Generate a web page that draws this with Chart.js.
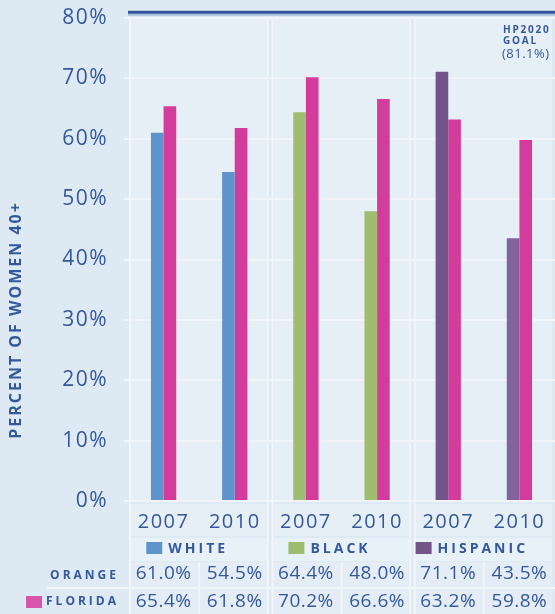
<!DOCTYPE html>
<html><head><meta charset="utf-8">
<script src="https://cdn.jsdelivr.net/npm/chart.js@4.4.1/dist/chart.umd.min.js"></script>
<style>html,body{margin:0;padding:0;background:#deeaf3;}canvas{display:block;}</style>
</head><body>
<canvas id="c" width="555" height="614"></canvas>
<script>
// ---- data ----
const years = ['2007', '2010', '2007', '2010', '2007', '2010'];
const groups = ['WHITE', 'BLACK', 'HISPANIC'];
const orange = [61.0, 54.5, 64.4, 48.0, 71.1, 43.5];
const florida = [65.4, 61.8, 70.2, 66.6, 63.2, 59.8];
const yTicks = [0, 10, 20, 30, 40, 50, 60, 70, 80];
const goal = 81.1;
const goalLabel = ['HP2020', 'GOAL', '(81.1%)'];
const rowLabels = ['ORANGE', 'FLORIDA'];
const yTitle = 'PERCENT OF WOMEN 40+';

// ---- styles ----
const TXT = '#34589b';
const groupColors = ['#5f94cb', '#9fbd6f', '#735489'];
const orangeColors = ['#5f94cb', '#5f94cb', '#9fbd6f', '#9fbd6f', '#735489', '#82639c'];
const floridaColor = '#d43c9c';
const FONT = '"Open Sans", "DejaVu Sans", sans-serif';

const fmt = v => v.toFixed(1) + '%';

const decor = {
  id: 'decor',
  beforeDraw(chart) {
    const {ctx, chartArea: ca} = chart;
    const H = chart.height;
    const w = (ca.right - ca.left) / years.length;
    ctx.save();
    for (let g = 0; g < groups.length; g++) {
      const gl = ca.left + 2 * g * w, gr = gl + 2 * w;
      ctx.fillStyle = '#e6eef6';
      ctx.fillRect(gl + 3, ca.top, gr - gl - 6, ca.bottom - ca.top);
      ctx.fillRect(gl + 3, ca.bottom + 3, gr - gl - 6, 32);
      ctx.fillStyle = '#e9f1f8';
      ctx.fillRect(gl + 3, ca.bottom + 37, gr - gl - 6, 23);
      ctx.fillStyle = '#e4edf5';
      for (let k = 0; k < 2; k++) {
        const cl = gl + k * w;
        ctx.fillRect(cl + (k ? 1 : 3), ca.bottom + 61, w - 4, H - (ca.bottom + 61));
      }
    }
    ctx.restore();
    ctx.letterSpacing = '1.5px';
  },
  beforeDatasetsDraw(chart) {
    const {ctx, chartArea: ca} = chart;
    ctx.letterSpacing = '0px';
    const H = chart.height;
    const w = (ca.right - ca.left) / years.length;
    ctx.save();
    ctx.strokeStyle = '#f2f6fa';
    ctx.lineWidth = 2;
    ctx.beginPath();
    for (let g = 0; g < groups.length; g++) {
      const gl = ca.left + 2 * g * w, gr = gl + 2 * w;
      ctx.moveTo(gl + 2, ca.top); ctx.lineTo(gl + 2, H);
      if (g < groups.length - 1) { ctx.moveTo(gr - 2.5, ca.top); ctx.lineTo(gr - 2.5, H); }
      ctx.moveTo(gl + w, ca.bottom + 61); ctx.lineTo(gl + w, H);
    }
    ctx.moveTo(47, ca.bottom + 87); ctx.lineTo(chart.width, ca.bottom + 87);
    ctx.stroke();
    ctx.restore();
  },
  afterDraw(chart) {
    const {ctx, chartArea: ca, scales: {x, y}} = chart;
    const w = (ca.right - ca.left) / years.length;
    ctx.save();
    // goal line
    const gy = y.getPixelForValue(goal) + 1;
    ctx.strokeStyle = '#a9bfdc';
    ctx.lineWidth = 2;
    ctx.beginPath(); ctx.moveTo(ca.left, gy + 2.5); ctx.lineTo(chart.width, gy + 2.5); ctx.stroke();
    ctx.strokeStyle = '#2e5596';
    ctx.lineWidth = 3;
    ctx.beginPath(); ctx.moveTo(ca.left, gy); ctx.lineTo(chart.width, gy); ctx.stroke();

    ctx.fillStyle = TXT;
    ctx.textBaseline = 'middle';
    ctx.textAlign = 'left';
    ctx.letterSpacing = '1.8px';
    ctx.font = 'bold 10px ' + FONT;
    ctx.fillText(goalLabel[0], 503, 30);
    ctx.fillText(goalLabel[1], 503, 41);
    ctx.letterSpacing = '0.5px';
    ctx.font = '13px ' + FONT;
    ctx.fillText(goalLabel[2], 502, 54);

    // y title
    ctx.save();
    ctx.translate(16, 320);
    ctx.rotate(-Math.PI / 2);
    ctx.textAlign = 'center';
    ctx.letterSpacing = '2px';
    ctx.font = 'bold 16px ' + FONT;
    ctx.fillText(yTitle, 0, 0);
    ctx.restore();

    // legend row
    ctx.letterSpacing = '3px';
    ctx.font = 'bold 14px ' + FONT;
    for (let g = 0; g < groups.length; g++) {
      const gl = ca.left + 2 * g * w;
      const cx = gl + w - 12;
      const tw = ctx.measureText(groups[g]).width;
      const total = 16 + 6 + tw;
      const sx = cx - total / 2;
      const ly = ca.bottom + 47;
      ctx.fillStyle = groupColors[g];
      ctx.fillRect(sx, ly - 6, 16, 12);
      ctx.fillStyle = TXT;
      ctx.textAlign = 'left';
      ctx.fillText(groups[g], sx + 22, ly + 1);
    }

    // row labels
    ctx.letterSpacing = '3px';
    ctx.font = 'bold 12px ' + FONT;
    ctx.textAlign = 'right';
    ctx.fillText(rowLabels[0], 119, ca.bottom + 75);
    ctx.fillText(rowLabels[1], 119, ca.bottom + 101);
    ctx.fillStyle = floridaColor;
    ctx.globalAlpha = 0.85;
    ctx.fillRect(26, ca.bottom + 95, 16, 12);
    ctx.globalAlpha = 1;

    // values
    ctx.fillStyle = TXT;
    ctx.letterSpacing = '0.5px';
    ctx.font = '19px ' + FONT;
    ctx.textAlign = 'center';
    for (let i = 0; i < years.length; i++) {
      const cx = x.getPixelForValue(i);
      ctx.fillText(fmt(orange[i]), cx, ca.bottom + 73);
      ctx.fillText(fmt(florida[i]), cx, ca.bottom + 101);
    }
    ctx.restore();
  }
};

new Chart(document.getElementById('c'), {
  type: 'bar',
  data: {
    labels: years,
    datasets: [
      {label: 'ORANGE', data: orange, backgroundColor: orangeColors, borderWidth: 0},
      {label: 'FLORIDA', data: florida, backgroundColor: floridaColor, borderWidth: 0}
    ]
  },
  options: {
    responsive: false,
    animation: false,
    devicePixelRatio: 1,
    layout: {padding: {top: 18, right: 0, left: 0, bottom: 0}},
    datasets: {bar: {categoryPercentage: 0.355, barPercentage: 1.0}},
    plugins: {legend: {display: false}, tooltip: {enabled: false}},
    scales: {
      x: {
        grid: {display: false},
        border: {display: false},
        ticks: {color: TXT, font: {family: FONT, size: 20, weight: '500'}, padding: 1, maxRotation: 0, autoSkip: false},
        afterFit(s) { s.height = 113; s.paddingLeft = 0; s.paddingRight = 0; }
      },
      y: {
        min: 0, max: 80,
        afterBuildTicks(s) { s.ticks = yTicks.map(v => ({value: v})); },
        grid: {color: '#f1f5fa', lineWidth: 2, drawTicks: true, tickLength: 4, tickColor: '#f1f5fa'},
        border: {display: false},
        ticks: {color: TXT, font: {family: FONT, size: 21}, padding: 16, callback: v => v + '%'},
        afterFit(s) { s.width = 128; s.paddingTop = 0; s.paddingBottom = 0; }
      }
    }
  },
  plugins: [decor]
});
</script>
</body></html>
